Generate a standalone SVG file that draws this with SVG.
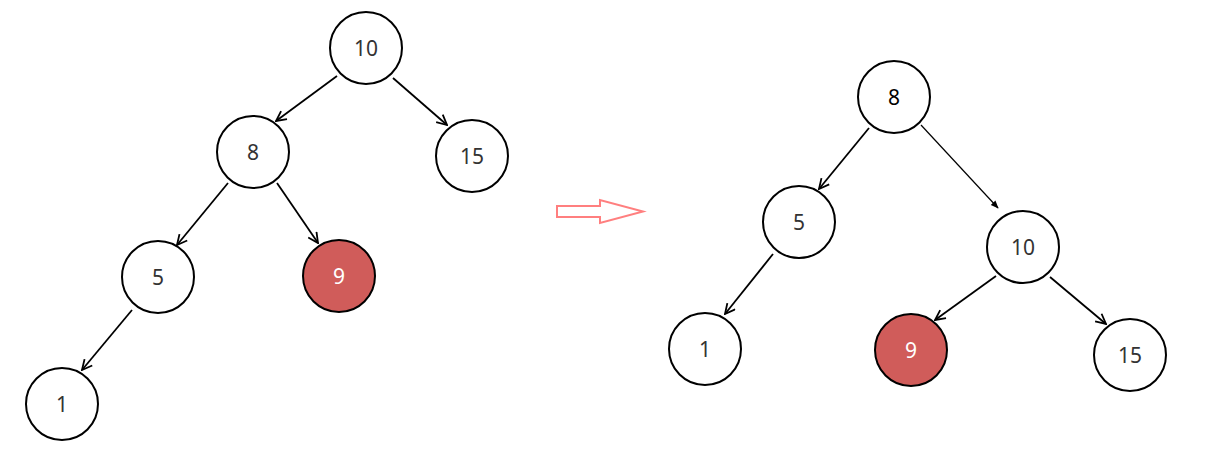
<svg xmlns="http://www.w3.org/2000/svg" width="1211" height="457" viewBox="0 0 1211 457">
<style>
.n{fill:#fff;stroke:#000;stroke-width:2}
.r{fill:#d05c5a;stroke:#000;stroke-width:2}
.t{font-family:"Noto Sans","Open Sans",sans-serif;font-size:21px;fill:#333;text-anchor:middle;dominant-baseline:central}
.w{fill:#fff}
.e{stroke:#000;stroke-width:1.8;fill:none;marker-end:url(#open)}
.e2{stroke:#000;stroke-width:1.2;fill:none;marker-end:url(#solid)}
</style>
<defs>
<marker id="open" viewBox="0 0 12 12" refX="11" refY="6" markerWidth="12" markerHeight="12" markerUnits="userSpaceOnUse" orient="auto">
<path d="M1,1 L11,6 L1,11" fill="none" stroke="#000" stroke-width="1.8"/>
</marker>
<marker id="solid" viewBox="0 0 10 10" refX="9" refY="5" markerWidth="8" markerHeight="8" markerUnits="userSpaceOnUse" orient="auto">
<path d="M0,1 L10,5 L0,9 Z" fill="#000"/>
</marker>
</defs>
<g id="connectors">
<line class="e" x1="337" y1="76" x2="276" y2="121"/>
<line class="e" x1="393" y1="78" x2="447" y2="125"/>
<line class="e" x1="228" y1="183" x2="177" y2="245"/>
<line class="e" x1="277" y1="183" x2="318" y2="243"/>
<line class="e" x1="132" y1="310" x2="82" y2="370"/>
<line class="e" x1="869" y1="128" x2="819" y2="189"/>
<line class="e2" x1="921" y1="125" x2="998" y2="208"/>
<line class="e" x1="773" y1="254" x2="725" y2="314"/>
<line class="e" x1="996" y1="276" x2="935" y2="320"/>
<line class="e" x1="1050" y1="277" x2="1106" y2="324"/>
</g>
<g id="transform-arrow">
<path d="M557,206 L600,206 L600,200 L643,211.5 L600,223 L600,217 L557,217 Z" fill="none" stroke="#ff7f7f" stroke-width="2"/>
</g>
<g id="l10"><circle class="n" cx="366" cy="48" r="36"/><text class="t" x="366" y="48">10</text></g>
<g id="l15"><circle class="n" cx="472" cy="156" r="36"/><text class="t" x="472" y="156">15</text></g>
<g id="l8"><circle class="n" cx="253" cy="152" r="36"/><text class="t" x="253" y="152">8</text></g>
<g id="l5"><circle class="n" cx="158" cy="277" r="36"/><text class="t" x="158" y="277">5</text></g>
<g id="l9"><circle class="r" cx="339" cy="276" r="36"/><text class="t w" x="339" y="276">9</text></g>
<g id="l1"><circle class="n" cx="62" cy="404" r="36"/><text class="t" x="62" y="404">1</text></g>
<g id="r8"><circle class="n" cx="894" cy="97" r="36"/><text class="t" x="894" y="97" style="fill:#000">8</text></g>
<g id="r5"><circle class="n" cx="799" cy="222" r="36"/><text class="t" x="799" y="222">5</text></g>
<g id="r10"><circle class="n" cx="1023" cy="247" r="36"/><text class="t" x="1023" y="247">10</text></g>
<g id="r1"><circle class="n" cx="705" cy="349" r="36"/><text class="t" x="705" y="349">1</text></g>
<g id="r9"><circle class="r" cx="911" cy="350" r="36"/><text class="t w" x="911" y="350">9</text></g>
<g id="r15"><circle class="n" cx="1130" cy="355" r="36"/><text class="t" x="1130" y="355">15</text></g>
</svg>
